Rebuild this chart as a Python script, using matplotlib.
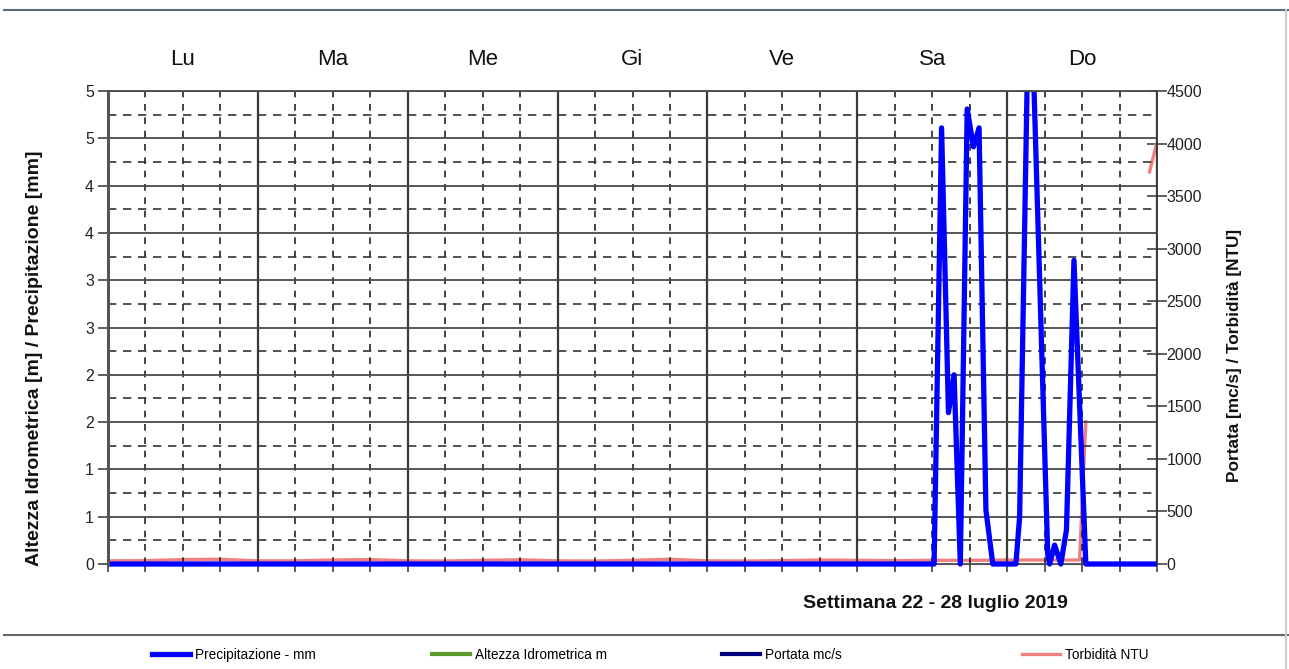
import numpy as np
import matplotlib
matplotlib.use("Agg")
from matplotlib import pyplot as plt
from matplotlib.lines import Line2D
from matplotlib.transforms import Bbox, TransformedBbox
from matplotlib.ticker import MultipleLocator, FixedLocator

plt.rcParams['font.family'] = ['Liberation Sans', 'DejaVu Sans']

DAYS = ['Lu', 'Ma', 'Me', 'Gi', 'Ve', 'Sa', 'Do']
LEFT_TICKS = [0, 0.5, 1, 1.5, 2, 2.5, 3, 3.5, 4, 4.5, 5]
LEFT_LABELS = ['0', '1', '1', '2', '2', '3', '3', '4', '4', '5', '5']
RIGHT_TICKS = [0, 500, 1000, 1500, 2000, 2500, 3000, 3500, 4000, 4500]

# hours from Monday 00:00
t_prec = [0, 132.3, 133.5, 134.6, 135.5, 136.5, 137.6, 138.6, 139.5, 140.6, 141.7,
          145.4, 146.0, 147.6, 150.5, 150.8, 151.6, 152.6, 153.5, 154.7, 156.6, 168]
prec = [0, 0, 4.61, 1.60, 2.0, 0, 4.81, 4.41, 4.61, 0.57, 0,
        0, 0.5, 6.6, 0.1, 0, 0.2, 0, 0.36, 3.21, 0, 0]

t_turb = [0, 6, 12, 18, 24, 30, 36, 42, 48, 54, 60, 66, 72, 78, 84, 90, 96, 102,
          108, 114, 120, 126, 132, 138, 144, 150, 155.6, 156.6, 157.0, 166.8, 167.9]
turb = [30, 32, 42, 45, 30, 30, 38, 42, 30, 28, 35, 40, 30, 28, 35, 45, 30, 28,
        32, 38, 35, 32, 35, 35, 38, 38, 38, 1354, np.nan, 3730, 3990]

# no readings shown for these two series
t_alt, altezza = [], []
t_port, portata = [], []

fig = plt.figure(figsize=(12.89, 6.69), dpi=100)
ax = fig.add_axes([108/1289, 1-564/669, (1157-108)/1289, 473/669])
ax2 = ax.twinx()
ax.set_zorder(2)
ax2.set_zorder(1)
ax.patch.set_visible(False)

ax.set_xlim(0, 168)
ax.set_ylim(0, 5)
ax2.set_ylim(0, 4500)

l_turb, = ax2.plot(t_turb, turb, color='#f08080', lw=2.4, label='Torbidità NTU')
l_port, = ax2.plot(t_port, portata, color='#000080', lw=3, label='Portata mc/s')
l_alt, = ax.plot(t_alt, altezza, color='#5c9a2c', lw=3, label='Altezza Idrometrica m')
l_prec, = ax.plot(t_prec, prec, color='#0000ff', lw=3.8, label='Precipitazione - mm')

# clip only at top/sides so the zero line keeps its full width
low_clip = Bbox([[0, -0.03], [1, 1]])
l_prec.set_clip_box(TransformedBbox(low_clip, ax.transAxes))
l_turb.set_clip_box(TransformedBbox(low_clip, ax2.transAxes))

# grid
ax.xaxis.set_major_locator(MultipleLocator(24))
ax.xaxis.set_minor_locator(MultipleLocator(6))
ax.yaxis.set_major_locator(FixedLocator(LEFT_TICKS))
ax.yaxis.set_minor_locator(MultipleLocator(0.25))
ax.set_yticklabels(LEFT_LABELS)
ax.grid(which='major', axis='y', color='#4a4a4a', lw=1.3, ls='-')
ax.grid(which='minor', axis='y', color='#333333', lw=1.2, ls=(0, (5, 4)))
ax.grid(which='major', axis='x', color='#3a3a3a', lw=1.6, ls='-')
ax.grid(which='minor', axis='x', color='#222222', lw=1.2, ls=(0, (4, 4)))

ax.tick_params(axis='x', which='both', labelbottom=False, direction='out',
               length=6, width=1.2, color='#444')
ax.tick_params(axis='y', which='major', direction='out', length=7, width=1.2,
               color='#444', labelsize=11.5, pad=3, labelcolor='#222')
ax.tick_params(axis='y', which='minor', length=0)

ax2.set_yticks(RIGHT_TICKS)
ax2.tick_params(axis='y', direction='inout', length=14, width=1.2, color='#444',
                labelsize=11.5, pad=0, labelcolor='#222')
for s in ax2.spines.values():
    s.set_visible(False)

ax.spines['left'].set_linewidth(2.2)
ax.spines['left'].set_color('#555')
ax.spines['top'].set_linewidth(1.3)
ax.spines['top'].set_color('#4a4a4a')
ax.spines['right'].set_linewidth(1.3)
ax.spines['right'].set_color('#333')
ax.spines['bottom'].set_color('#555')
ax.spines['bottom'].set_zorder(1)

# day names
for i, d in enumerate(DAYS):
    ax.text(24*i + 12, 1.066, d, transform=ax.get_xaxis_transform(),
            ha='center', va='center', fontsize=16, color='#111')

fig.text(935/1289, 1-604/669, 'Settimana 22 - 28 luglio 2019', ha='center', va='center',
         fontsize=14, fontweight='bold', color='#111')
fig.text(35/1289, 1-358/669, 'Altezza Idrometrica [m] / Precipitazione [mm]', rotation=90,
         ha='center', va='center', fontsize=14, fontweight='bold', color='#111')
fig.text(1235/1289, 1-355/669, 'Portata [mc/s] / Torbidità [NTU]', rotation=90,
         ha='center', va='center', fontsize=12.4, fontweight='bold', color='#111')

# frame lines
fig.add_artist(Line2D([4/1289, 1], [1-10/669, 1-10/669], color='#5a6a7a', lw=1.5))
fig.add_artist(Line2D([4/1289, 1], [1-635/669, 1-635/669], color='#666', lw=1.5))
fig.add_artist(Line2D([1286/1289, 1286/1289], [0, 1-10/669], color='#c8ccd4', lw=1.5))

# legend, one entry per slot
for h, x in zip([l_prec, l_alt, l_port, l_turb], [152, 432, 722, 1022]):
    fig.legend(handles=[h], loc='center left', bbox_to_anchor=(x/1289, 1-655/669),
               frameon=False, fontsize=9.8, handlelength=2.8, handletextpad=0.38,
               borderpad=0, borderaxespad=0)

fig.savefig('out.png', dpi=100)
